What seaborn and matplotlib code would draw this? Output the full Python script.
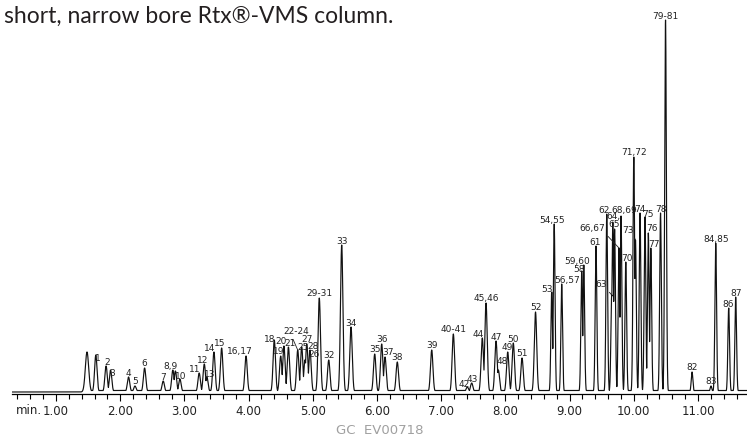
import numpy as np
import pandas as pd
import matplotlib
matplotlib.use("Agg")
import matplotlib.pyplot as plt
import seaborn as sns

# =========================
# DATA
# =========================
# retention time (min) and peak height (in pixels above the baseline)
peak_names = [
    "", "1", "2", "3", "4", "5", "6", "7", "8", "9", "10",
    "11", "12", "13", "14", "15", "16,17", "18", "19", "20", "21",
    "22-24", "25", "26", "27", "28", "29-31", "32", "33", "34", "35",
    "36", "37", "38", "39", "40-41", "42", "43", "44", "45,46", "47",
    "48", "49", "50", "51", "52", "53", "54,55", "56,57", "58", "59,60",
    "61", "62", "63", "64", "65", "66,67", "68,69", "70", "71,72", "73",
    "74", "75", "76", "77", "78", "79-81", "82", "83", "84,85", "86", "87",
]
peak_times = [
    1.483, 1.620, 1.780, 1.850, 2.130, 2.230, 2.380, 2.670, 2.820, 2.860, 2.930,
    3.230, 3.310, 3.350, 3.460, 3.580, 3.960, 4.400, 4.500, 4.550, 4.620,
    4.765, 4.827, 4.878, 4.906, 4.956, 5.101, 5.248, 5.450, 5.595, 5.964,
    6.073, 6.125, 6.316, 6.852, 7.189, 7.407, 7.475, 7.640, 7.698, 7.854,
    7.890, 8.036, 8.123, 8.259, 8.469, 8.721, 8.760, 8.877, 9.188, 9.221,
    9.411, 9.579, 9.656, 9.672, 9.701, 9.769, 9.801, 9.875, 10.000, 10.026,
    10.097, 10.174, 10.226, 10.265, 10.416, 10.494, 10.907, 11.202, 11.276, 11.478, 11.587,
]
peak_heights = [
    40, 37, 26, 22, 15, 6, 24, 11, 22, 21, 13,
    19, 28, 15, 40, 44, 36, 52, 36, 46, 45,
    42, 45, 32, 48, 42, 94, 32, 147, 65, 38,
    48, 35, 30, 42, 58, 5, 9, 54, 89, 51,
    22, 40, 49, 34, 80, 100, 168, 108, 121, 127,
    146, 178, 97, 170, 163, 144, 176, 130, 235, 152,
    179, 175, 159, 144, 179, 372, 20, 6, 149, 84, 95,
]

# peak labels: text -> peak it belongs to
label_texts = [p for p in peak_names if p not in ("", "8", "9", "64")] + ["8,9", "64,"]
label_anchor = {"8,9": "8", "64,": "64"}

tick_minutes = [1, 2, 3, 4, 5, 6, 7, 8, 9, 10, 11]

# =========================
# TRACE
# =========================
t = np.linspace(0.31, 11.77, 14000)
pt = np.array(peak_times)
sig = np.where(pt < 1.5, 0.026, np.where(pt < 8.5, 0.019, 0.013))
gauss = np.array(peak_heights)[:, None] * np.exp(
    -0.5 * ((t[None, :] - pt[:, None]) / sig[:, None]) ** 2
)
baseline = np.where(t > 1.42, 1.5, 0.0)
signal = np.maximum(baseline, gauss.max(axis=0))
df = pd.DataFrame({"time": t, "signal": signal})

# =========================
# FIGURE
# =========================
sns.set_style("white")
narrow = ["Liberation Sans Narrow", "DejaVu Sans"]
plt.rcParams["font.family"] = narrow

W, H = 747, 438
fig = plt.figure(figsize=(W / 100, H / 100), dpi=100)
ax = fig.add_axes([11.7 / W, 44 / H, 1 - 11.7 / W, 394 / H])

sns.lineplot(data=df, x="time", y="signal", ax=ax, color="#111111",
             linewidth=0.85, estimator=None, sort=False)

ax.set_xlim(0.31, 11.763)
ax.set_ylim(-2, 392)
ax.set_xlabel("")
ax.set_ylabel("")
ax.set_yticks([])
ax.set_xticks(tick_minutes)
ax.set_xticklabels([f"{m:.2f}" for m in tick_minutes], fontsize=8.5)
ax.set_xticks(np.arange(0.4, 11.8, 0.2), minor=True)
ax.tick_params(axis="x", which="major", direction="out", length=5, width=0.8,
               color="black", pad=3, labelcolor="#222222", bottom=True)
ax.tick_params(axis="x", which="minor", direction="out", length=3.5, width=0.8,
               color="black", bottom=True)
for side in ["left", "right", "top"]:
    ax.spines[side].set_visible(False)
ax.spines["bottom"].set_color("black")
ax.spines["bottom"].set_linewidth(0.9)
ax.patch.set_alpha(0)

# =========================
# PEAK LABELS
# =========================
# offsets in pixels from the peak top: (dx, dy, leader relpos or None)
offsets = {
    "1": (2, -6, None), "2": (1, 1, None), "3": (2, -6, None),
    "8,9": (-2, 1, None), "10": (1, 0, None), "11": (-4, 1, None),
    "12": (-2, 1, None), "13": (3, 0, None), "14": (-4, 1, None),
    "15": (-2, 2, None), "16,17": (-6, 2, None), "18": (-5, -2, None),
    "19": (-2, 2, None), "20": (-3, 2, None), "21": (2, 1, None),
    "22-24": (-1, 16, (0.3, 0)), "25": (1, -3, None), "26": (9, 3, (0, 0.3)),
    "27": (0, 2, None), "28": (3, 1, None), "37": (3, 2, None),
    "42": (-3, 0, None), "43": (1, 1, None), "44": (-4, 1, None),
    "48": (4, 6, None), "53": (-4.5, 0, None), "54,55": (-2.5, 1, None),
    "56,57": (5, 1, None), "58": (-2.5, -1.5, None), "59,60": (-7, 1, None),
    "61": (-1, 1, None), "62": (-3, 1, None), "63": (-11, 8, (1, 0)),
    "64,": (0.5, 3, None), "65": (0, 1.7, None), "66,67": (-27, 17, (1, 0)),
    "68,69": (3, 3, None), "70": (1.5, 1, None), "73": (-8, 7, (1, 0)),
    "74": (0, 1, None), "75": (3, 0, None), "76": (3.5, 2, None),
    "77": (3, 1.5, None), "86": (-1, 1, None),
}

for text in label_texts:
    anchor = label_anchor.get(text, text)
    i = peak_names.index(anchor)
    dx, dy, rel = offsets.get(text, (0, 1.5, None))
    arrow = None
    if rel is not None:
        arrow = dict(arrowstyle="-", lw=0.6, color="#222222",
                     shrinkA=0, shrinkB=0, relpos=rel)
    ax.annotate(text, xy=(peak_times[i], peak_heights[i]),
                xytext=(dx, dy), textcoords="offset pixels",
                ha="center", va="baseline", fontsize=6.5,
                color="#222222", arrowprops=arrow)

# =========================
# TEXT
# =========================
fig.text(16 / W, 1 - 410.5 / H, "min.", fontsize=8.5, color="#222222",
         ha="left", va="center")
fig.text(380 / W, 1 - 431 / H, "GC  EV00718", fontsize=9.5, color="#a0a0a0",
         ha="center", va="center")
fig.text(4 / W, 1 - 23 / H, "short, narrow bore Rtx\u00ae-VMS column.",
         fontsize=16.5, color="#231f20", ha="left", va="baseline",
         family=["Lato", "DejaVu Sans"])

fig.savefig("out.png", dpi=100)
plt.close(fig)
